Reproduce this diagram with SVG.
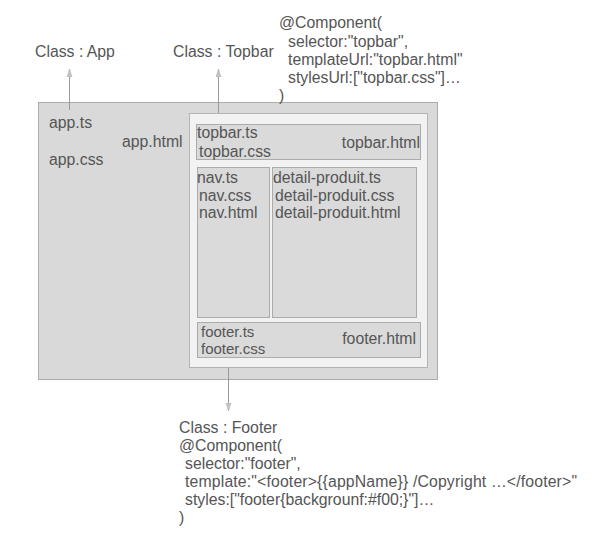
<svg xmlns="http://www.w3.org/2000/svg" width="599" height="550" viewBox="0 0 599 550">
<defs>
<style>
text{font-family:"Liberation Sans",Arial,sans-serif;font-size:15.8px;fill:#555}
.tight{font-size:15px}
.outer{fill:#d9d9d9;stroke:#ababab;stroke-width:1}
.inner{fill:#f2f2f2;stroke:#b3b3b3;stroke-width:1}
.box{fill:#dadada;stroke:#ababab;stroke-width:1}
.conn{stroke:#999;stroke-width:1;fill:none;marker-end:url(#ah)}
</style>
<marker id="ah" viewBox="0 0 8 8" refX="8" refY="4" markerWidth="8" markerHeight="8" markerUnits="userSpaceOnUse" orient="auto">
<path d="M0,1.5 L8,4 L0,6.5 Z" fill="#c4c4c4" stroke="#aaa" stroke-width="0.5"/>
</marker>
</defs>
<rect width="599" height="550" fill="#fff"/>
<g id="app">
<rect class="outer" x="38.5" y="102.5" width="399" height="277"/>
<text x="49" y="128">app.ts</text>
<text x="49" y="165">app.css</text>
<text x="122" y="147">app.html</text>
</g>
<g id="topbar-container">
<rect class="inner" x="189.5" y="113.5" width="238" height="254"/>
</g>
<g id="topbar">
<rect class="box" x="196.5" y="124.5" width="224" height="35"/>
<text><tspan x="197" y="138">topbar.ts</tspan><tspan x="199" y="157">topbar.css</tspan></text>
<text x="420" y="148" text-anchor="end">topbar.html</text>
</g>
<g id="nav">
<rect class="box" x="197.5" y="167.5" width="72" height="150"/>
<text><tspan x="197" y="183">nav.ts</tspan><tspan x="199" y="201">nav.css</tspan><tspan x="199" y="218">nav.html</tspan></text>
</g>
<g id="detail">
<rect class="box" x="272.5" y="167.5" width="144" height="150"/>
<text><tspan x="273" y="183">detail-produit.ts</tspan><tspan x="275" y="201">detail-produit.css</tspan><tspan x="275" y="218">detail-produit.html</tspan></text>
</g>
<g id="footer">
<rect class="box" x="197.5" y="322.5" width="223" height="35"/>
<text class="tight"><tspan x="201" y="337">footer.ts</tspan><tspan x="201" y="354">footer.css</tspan></text>
<text x="416" y="344" text-anchor="end">footer.html</text>
</g>
<g id="class-app">
<text x="35" y="57">Class : App</text>
</g>
<g id="class-topbar">
<text x="173" y="57">Class : Topbar</text>
</g>
<g id="topbar-decorator">
<text><tspan x="279" y="28">@Component(</tspan><tspan x="288" y="47">selector:"topbar",</tspan><tspan x="288" y="65">templateUrl:"topbar.html"</tspan><tspan x="288" y="83">stylesUrl:["topbar.css"]…</tspan><tspan x="279" y="101">)</tspan></text>
</g>
<g id="class-footer">
<text><tspan x="179" y="433">Class : Footer</tspan><tspan x="179" y="451">@Component(</tspan><tspan x="185" y="469">selector:"footer",</tspan><tspan x="185" y="487" textLength="392" lengthAdjust="spacing">template:"&lt;footer&gt;{{appName}} /Copyright …&lt;/footer&gt;"</tspan><tspan x="185" y="505">styles:["footer{backgrounf:#f00;}"]…</tspan><tspan x="179" y="523">)</tspan></text>
</g>
<g id="connectors">
<line class="conn" x1="69.5" y1="110" x2="69.5" y2="69"/>
<line class="conn" x1="218.5" y1="113" x2="218.5" y2="69"/>
<line class="conn" x1="228.5" y1="368" x2="228.5" y2="411"/>
</g>
</svg>
